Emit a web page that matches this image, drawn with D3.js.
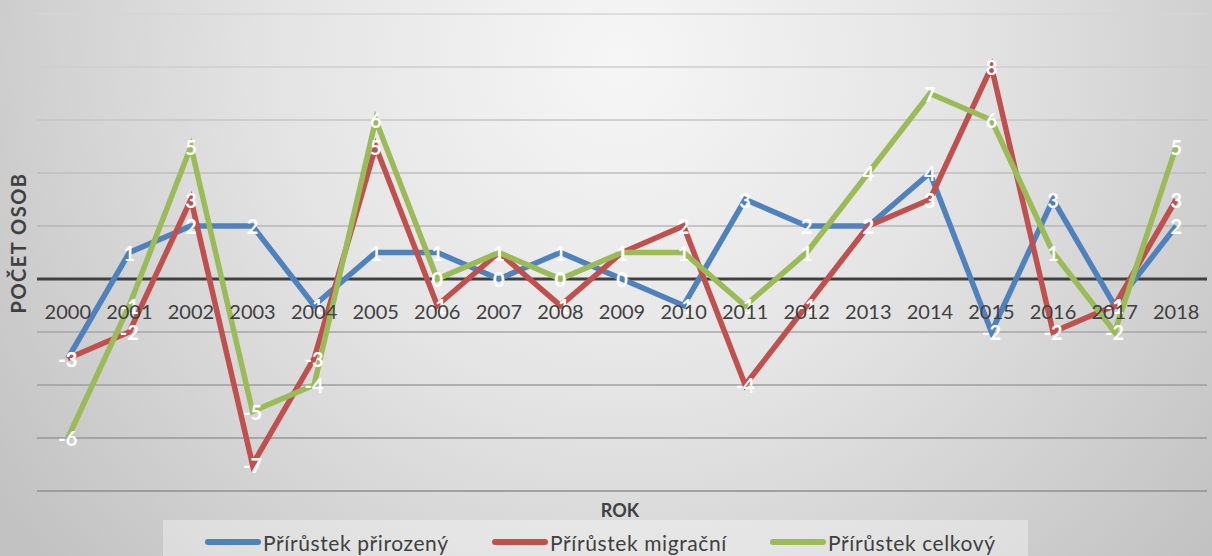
<!DOCTYPE html>
<html><head><meta charset="utf-8">
<script src="https://cdn.jsdelivr.net/npm/d3@7"></script>
<style>html,body{margin:0;padding:0;overflow:hidden;background:#fff}svg{display:block}</style>
</head><body>
<svg id="chart" width="1212" height="556"></svg>
<script>
const years = ["2000","2001","2002","2003","2004","2005","2006","2007","2008","2009","2010","2011","2012","2013","2014","2015","2016","2017","2018"];
const prirozeny = [-3,1,2,2,-1,1,1,0,1,0,-1,3,2,2,4,-2,3,-1,2];
const migracni  = [-3,-2,3,-7,-3,5,-1,1,-1,1,2,-4,-1,2,3,8,-2,-1,3];
const celkovy   = [-6,-1,5,-5,-4,6,0,1,0,1,1,-1,1,4,7,6,1,-2,5];
const seriesNames = ["Přírůstek přirozený","Přírůstek migrační","Přírůstek celkový"];
const yTicks = [-8,-6,-4,-2,0,2,4,6,8,10];

const colors = ["#4F81BD","#C0504D","#9BBB59"];
const series = [prirozeny, migracni, celkovy];
const W = 1212, H = 556;
const svg = d3.select("#chart");
const FONT = "Lato, 'Open Sans', sans-serif";

const defs = svg.append("defs");
const rg = defs.append("radialGradient").attr("id","bg").attr("gradientUnits","userSpaceOnUse")
  .attr("cx",620).attr("cy",60).attr("r",760);
rg.append("stop").attr("offset","0%").attr("stop-color","#f6f6f6");
rg.append("stop").attr("offset","45%").attr("stop-color","#e4e4e4");
rg.append("stop").attr("offset","100%").attr("stop-color","#c2c2c2");
svg.append("rect").attr("width",W).attr("height",H).attr("fill","url(#bg)");

const x = d3.scaleBand().domain(years).range([37,1207]);
const xc = d => x(d) + x.bandwidth()/2;
const y = d3.scaleLinear().domain([-8,10]).range([491,14]);
const gridColor = d3.scaleLinear().domain([10,-8]).range(["#d6d6d6","#8e8e8e"]);

// gridlines
svg.append("g").selectAll("line").data(yTicks.filter(t=>t!==0)).join("line")
  .attr("x1",37).attr("x2",1207).attr("y1",d=>y(d)).attr("y2",d=>y(d))
  .attr("stroke",d=>gridColor(d)).attr("stroke-width",1.5);

// zero axis line
svg.append("line").attr("x1",37).attr("x2",1207).attr("y1",y(0)).attr("y2",y(0))
  .attr("stroke","#404040").attr("stroke-width",3);

// lines
const line = d3.line().x((d,i)=>xc(years[i])).y(d=>y(d));
series.forEach((s,k)=>{
  svg.append("path").datum(s).attr("d",line).attr("fill","none")
    .attr("stroke",colors[k]).attr("stroke-width",5.5).attr("stroke-linejoin","miter").attr("stroke-linecap","butt");
});

// data labels
series.forEach((s,k)=>{
  svg.append("g").selectAll("text").data(s).join("text")
    .attr("x",(d,i)=>xc(years[i])).attr("y",d=>y(d))
    .attr("text-anchor","middle").attr("dominant-baseline","central")
    .attr("font-family",FONT).attr("font-weight","bold").attr("font-size",20)
    .attr("fill","#ffffff").text(d=>d);
});

// category labels
svg.append("g").selectAll("text").data(years).join("text")
  .attr("x",d=>xc(d)).attr("y",311).attr("text-anchor","middle").attr("dominant-baseline","central")
  .attr("font-family",FONT).attr("font-size",20).attr("fill","#404040").text(d=>d);

// axis titles
svg.append("text").attr("transform","translate(26,243) rotate(-90)")
  .attr("text-anchor","middle").attr("font-family",FONT).attr("font-weight","bold")
  .attr("font-size",20).attr("letter-spacing",1.5).attr("fill","#404040").text("POČET OSOB");
svg.append("text").attr("x",620).attr("y",517).attr("text-anchor","middle")
  .attr("font-family",FONT).attr("font-weight","bold").attr("font-size",18).attr("fill","#404040").text("ROK");

// legend
svg.append("rect").attr("x",163).attr("y",520).attr("width",865).attr("height",40)
  .attr("fill","#ffffff").attr("fill-opacity",0.35);
const legX = [205,492,770];
seriesNames.forEach((n,k)=>{
  const g = svg.append("g").attr("transform",`translate(${legX[k]},542)`);
  g.append("line").attr("x1",3).attr("x2",53).attr("y1",0).attr("y2",0)
    .attr("stroke",colors[k]).attr("stroke-width",6).attr("stroke-linecap","round");
  g.append("text").attr("x",58).attr("y",0).attr("dominant-baseline","central")
    .attr("font-family",FONT).attr("font-size",21).attr("letter-spacing",0.6).attr("fill","#404040").text(n);
});
</script>
</body></html>
